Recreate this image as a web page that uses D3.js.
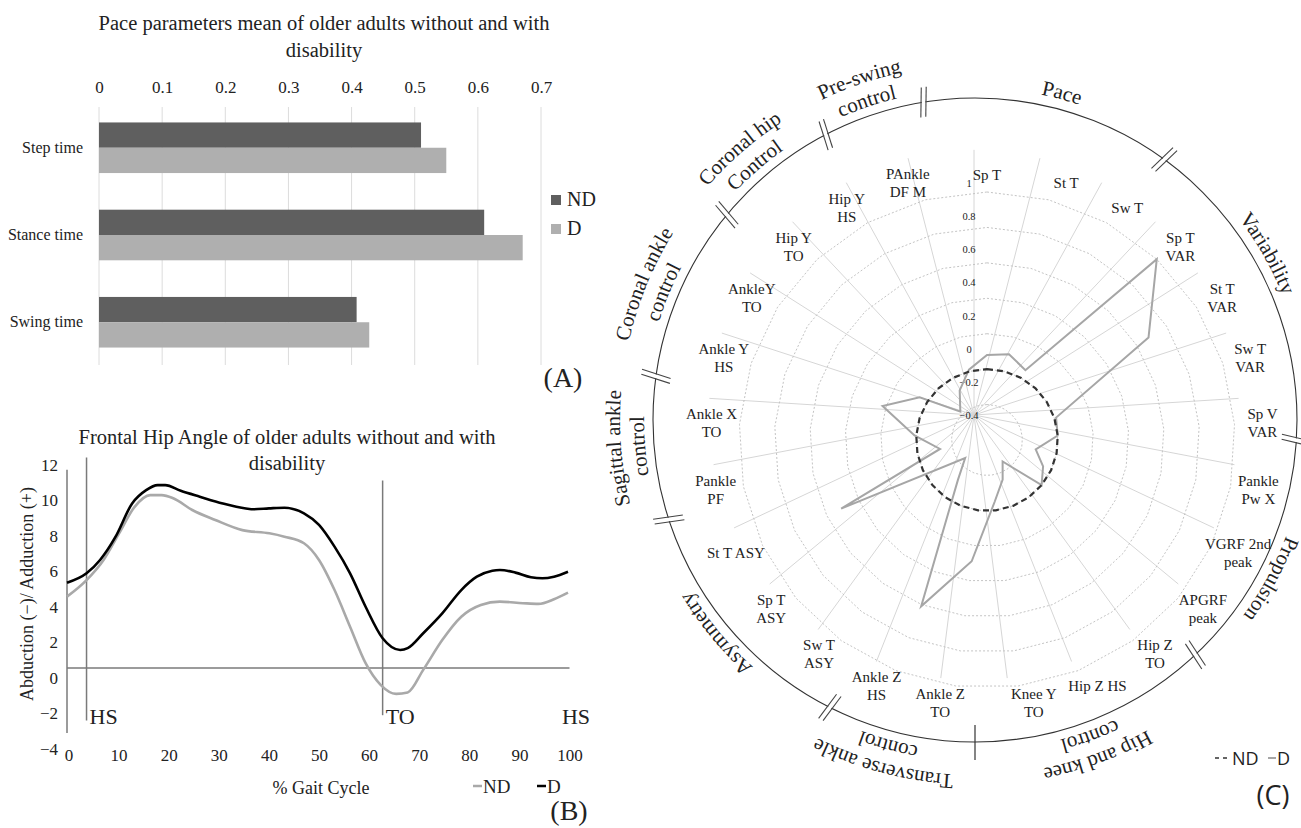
<!DOCTYPE html>
<html><head><meta charset="utf-8">
<script src="https://cdn.jsdelivr.net/npm/d3@7"></script>
<style>
body{margin:0;background:#fff;}
svg text{font-family:"Liberation Serif","Times New Roman",serif;fill:#222;}
</style></head><body>
<svg id="chart" width="1301" height="828"></svg>
<script>
// ---------------- Panel A data ----------------
const paceCategories = ["Step time", "Stance time", "Swing time"];
const paceSeries = ["ND", "D"];
const paceND = [0.510, 0.610, 0.408];
const paceD = [0.550, 0.671, 0.428];
const paceTicks = [0, 0.1, 0.2, 0.3, 0.4, 0.5, 0.6, 0.7];
const paceTitle = ["Pace parameters mean of older adults without and with", "disability"];

// ---------------- Panel B data ----------------
const gaitPctD = [0, 3.9, 6.6, 9.7, 13.0, 15.8, 18.1, 19.6, 22.7, 26.5, 31.1, 35.7, 37.3, 40.3, 43.4, 47.3, 50.3, 53.4, 56.5, 59.6, 63.0, 66.5, 68.0, 71.1, 74.9, 78.7, 81.8, 84.9, 86.4, 89.5, 92.6, 94.9, 97.2, 100];
const hipD = [5.35, 5.88, 6.63, 7.94, 9.81, 10.56, 10.84, 10.84, 10.52, 10.19, 9.81, 9.53, 9.48, 9.53, 9.57, 9.25, 8.6, 7.38, 5.88, 4.0, 2.23, 1.57, 1.67, 2.51, 3.63, 4.94, 5.69, 6.03, 6.07, 5.92, 5.66, 5.6, 5.69, 5.97];
const gaitPctND = [0, 3.9, 7.3, 10.4, 13.5, 16.6, 18.9, 21.2, 25.0, 29.6, 35.0, 40.4, 43.4, 47.3, 50.3, 53.4, 56.5, 59.6, 62.6, 65.7, 68.0, 71.1, 74.9, 78.7, 82.6, 86.4, 91.0, 94.1, 97.2, 100];
const hipND = [4.57, 5.5, 6.63, 8.13, 9.62, 10.28, 10.28, 10.1, 9.44, 8.88, 8.31, 8.13, 7.94, 7.57, 6.63, 4.94, 2.88, 0.83, -0.39, -0.9, -0.82, 0.45, 2.13, 3.44, 4.1, 4.29, 4.2, 4.16, 4.42, 4.79];
const hipTicksY = [-4, -2, 0, 2, 4, 6, 8, 10, 12];
const gaitTicksX = [0, 10, 20, 30, 40, 50, 60, 70, 80, 90, 100];
const gaitEventLabels = ["HS", "TO", "HS"];
const gaitEventPct = [3.9, 63, 100];
const gaitEventTop = [12.4, 11.1];
const gaitEventBottom = [-2.4, -2.1];
const hipRefLine = 0.55;
const hipAxisExtent = [-3.1, 11.7];
const hipTitle = ["Frontal Hip Angle of older adults without and with", "disability"];

// ---------------- Panel C data ----------------
const radarAxes = ["Sp T", "St T", "Sw T", "Sp T\nVAR", "St T\nVAR", "Sw T\nVAR", "Sp V\nVAR", "Pankle\nPw X", "VGRF 2nd\npeak", "APGRF\npeak", "Hip Z\nTO", "Hip Z HS", "Knee Y\nTO", "Ankle Z\nTO", "Ankle Z\nHS", "Sw T\nASY", "Sp T\nASY", "St T ASY", "Pankle\nPF", "Ankle X\nTO", "Ankle Y\nHS", "AnkleY\nTO", "Hip Y\nTO", "Hip Y\nHS", "PAnkle\nDF M"];
const radarND = [0, 0, 0, 0, 0, 0, 0, 0, 0, 0, 0, 0, 0, 0, 0, 0, 0, 0, 0, 0, 0, 0, 0, 0, 0];
const radarD = [0.08, 0.10, 0.05, 1.00, 0.68, 0.01, 0.00, -0.12, -0.05, 0.00, -0.25, -0.16, -0.05, 0.29, 0.61, -0.12, -0.24, 0.51, -0.13, 0.01, 0.22, 0.05, -0.18, -0.08, 0.01];
const radarTicks = [-0.4, -0.2, 0, 0.2, 0.4, 0.6, 0.8, 1];
const radarGroups = ["Pace", "Variability", "Propulsion", "Hip and knee\ncontrol", "Transverse ankle\ncontrol", "Asymmetry", "Sagittal ankle\ncontrol", "Coronal ankle\ncontrol", "Coronal hip\nControl", "Pre-swing\ncontrol"];
const radarGroupSizes = [3, 4, 3, 3, 2, 3, 2, 2, 2, 1];

const svg = d3.select("#chart");
const serif = '"Liberation Serif","Times New Roman",serif';
const sans = '"Open Sans","Liberation Sans",sans-serif';

// =============== Panel A =================
(function () {
  const g = svg.append("g");
  const x = d3.scaleLinear().domain([0, 0.7]).range([99, 541]);
  const y = d3.scaleBand().domain(paceCategories).range([105, 365]).paddingInner(0.42).paddingOuter(0.2);
  const ySub = d3.scaleBand().domain(paceSeries).range([0, y.bandwidth()]);
  const color = d3.scaleOrdinal().domain(paceSeries).range(["#5f5f5f", "#afafaf"]);

  g.selectAll("text.title").data(paceTitle).join("text")
    .attr("x", 324).attr("y", (d, i) => 30 + i * 27).attr("text-anchor", "middle")
    .style("font-size", "20.5px").text(d => d);

  g.selectAll("line.grid").data(paceTicks).join("line")
    .attr("x1", d => x(d)).attr("x2", d => x(d)).attr("y1", 107).attr("y2", 365)
    .attr("stroke", "#dcdcdc").attr("stroke-width", 1);

  const axis = d3.axisTop(x).tickValues(paceTicks).tickSize(0).tickPadding(0).tickFormat(d3.format("~g"));
  const ax = g.append("g").attr("transform", "translate(0,93)").call(axis);
  ax.select(".domain").remove();
  ax.selectAll("text").style("font-size", "17px").style("font-family", serif).attr("fill", "#222").attr("dy", 0);

  const rows = paceCategories.map((c, i) => ({ c, vals: [paceND[i], paceD[i]] }));
  const rg = g.selectAll("g.row").data(rows).join("g").attr("transform", d => `translate(0,${y(d.c)})`);
  rg.selectAll("rect").data(d => d.vals.map((v, j) => ({ s: paceSeries[j], v }))).join("rect")
    .attr("x", x(0)).attr("y", d => ySub(d.s)).attr("height", ySub.bandwidth())
    .attr("width", d => x(d.v) - x(0)).attr("fill", d => color(d.s));

  g.selectAll("text.cat").data(paceCategories).join("text")
    .attr("x", 83).attr("y", d => y(d) + y.bandwidth() / 2 + 5).attr("text-anchor", "end")
    .style("font-size", "16px").text(d => d);

  const lg = g.selectAll("g.leg").data(paceSeries).join("g")
    .attr("transform", (d, i) => `translate(551,${195 + i * 29})`);
  lg.append("rect").attr("width", 10).attr("height", 10).attr("fill", d => color(d));
  lg.append("text").attr("x", 16).attr("y", 11).style("font-size", "20px").text(d => d);

  g.append("text").attr("x", 563).attr("y", 387).attr("text-anchor", "middle")
    .style("font-size", "28px").text("(A)");
})();

// =============== Panel B =================
(function () {
  const g = svg.append("g");
  const x = d3.scaleLinear().domain([0, 100]).range([67, 568]);
  const y = d3.scaleLinear().domain([-4, 12]).range([749, 464.5]);
  const grey = "#7a7a7a";

  g.selectAll("text.title").data(hipTitle).join("text")
    .attr("x", 287).attr("y", (d, i) => 444 + i * 26).attr("text-anchor", "middle")
    .style("font-size", "20.5px").text(d => d);

  g.append("line").attr("x1", x(0)).attr("x2", x(0)).attr("y1", y(hipAxisExtent[0])).attr("y2", y(hipAxisExtent[1]))
    .attr("stroke", grey).attr("stroke-width", 1.5);
  g.append("line").attr("x1", x(0)).attr("x2", x(100.3)).attr("y1", y(hipRefLine)).attr("y2", y(hipRefLine))
    .attr("stroke", grey).attr("stroke-width", 1.5);
  g.selectAll("line.ev").data(gaitEventTop).join("line")
    .attr("x1", (d, i) => x(gaitEventPct[i])).attr("x2", (d, i) => x(gaitEventPct[i]))
    .attr("y1", d => y(d)).attr("y2", (d, i) => y(gaitEventBottom[i]))
    .attr("stroke", grey).attr("stroke-width", 1.5);
  g.selectAll("text.ev").data(gaitEventLabels).join("text")
    .attr("x", (d, i) => i < 2 ? x(gaitEventPct[i]) + 3 : x(gaitEventPct[i]) + 22)
    .attr("y", 724).attr("text-anchor", (d, i) => i < 2 ? "start" : "end")
    .style("font-size", "22px").text(d => d);

  g.selectAll("text.yt").data(hipTicksY).join("text")
    .attr("x", 58).attr("y", d => y(d) + 6).attr("text-anchor", "end")
    .style("font-size", "17px").text(d => d < 0 ? "\u2212" + Math.abs(d) : d);
  g.selectAll("text.xt").data(gaitTicksX).join("text")
    .attr("x", d => x(d) + 2).attr("y", 761).attr("text-anchor", "middle")
    .style("font-size", "17px").text(d => d);

  const lineGen = (xs) => d3.line().x((d, i) => x(xs[i])).y(d => y(d)).curve(d3.curveMonotoneX);
  g.append("path").attr("d", lineGen(gaitPctND)(hipND)).attr("fill", "none")
    .attr("stroke", "#a9a9a9").attr("stroke-width", 2.6);
  g.append("path").attr("d", lineGen(gaitPctD)(hipD)).attr("fill", "none")
    .attr("stroke", "#000").attr("stroke-width", 2.6);

  g.append("text").attr("transform", "translate(33,594) rotate(-90)").attr("text-anchor", "middle")
    .style("font-size", "18px").text("Abduction (\u2212)/ Adduction (+)");
  g.append("text").attr("x", 321).attr("y", 794).attr("text-anchor", "middle")
    .style("font-size", "18px").text("% Gait Cycle");

  const leg = [{ s: "ND", c: "#a9a9a9", x: 473 }, { s: "D", c: "#000", x: 537 }];
  const lg = g.selectAll("g.leg").data(leg).join("g").attr("transform", d => `translate(${d.x},786)`);
  lg.append("line").attr("x1", 0).attr("x2", 9).attr("stroke", d => d.c).attr("stroke-width", 2.5);
  lg.append("text").attr("x", 10).attr("y", 7).style("font-size", "19px").text(d => d.s);

  g.append("text").attr("x", 569).attr("y", 820).attr("text-anchor", "middle")
    .style("font-size", "28px").text("(B)");
})();

// =============== Panel C =================
(function () {
  const g = svg.append("g");
  const n = radarAxes.length;
  const ang = d3.scaleLinear().domain([0, n]).range([0, 2 * Math.PI]);
  const deg = Math.PI / 180;
  const cx = 987, cy = 440;          // rings / series centre
  const sx = 974, sy = 415;          // spoke centre (offset in the source figure)
  const fx = 975, fy = 420, fr = 322; // outer frame circle
  const r = d3.scaleLinear().domain([-0.4, 1]).range([0, 248]);
  const rTick = d3.scaleLinear().domain([-0.4, 1]).range([0, 232]);
  const idx = d3.range(n);

  g.selectAll("line.spoke").data(idx).join("line")
    .attr("x1", sx).attr("y1", sy)
    .attr("x2", i => sx + rTick(1.2) * Math.sin(ang(i)))
    .attr("y2", i => sy - rTick(1.2) * Math.cos(ang(i)))
    .attr("stroke", "#d6d6d6").attr("stroke-width", 1);

  const ring = d3.lineRadial().angle((d, i) => ang(i)).radius(d => r(d)).curve(d3.curveLinearClosed);
  g.selectAll("path.ring").data(radarTicks.filter(t => t > -0.4)).join("path")
    .attr("transform", `translate(${cx},${cy})`)
    .attr("d", t => ring(idx.map(() => t)))
    .attr("fill", "none").attr("stroke", "#c4c4c4").attr("stroke-width", 1).attr("stroke-dasharray", "2,2");

  g.selectAll("text.rt").data(radarTicks).join("text")
    .attr("x", sx - 5).attr("y", t => sy - rTick(t) + 4).attr("text-anchor", "middle")
    .style("font-size", "10.5px").attr("fill", "#333").text(t => d3.format("~g")(t));

  const poly = d3.lineRadial().angle((d, i) => ang(i)).radius(d => r(d)).curve(d3.curveLinearClosed);
  g.append("path").attr("transform", `translate(${cx},${cy})`).attr("d", poly(radarD))
    .attr("fill", "none").attr("stroke", "#a6a6a6").attr("stroke-width", 2).attr("stroke-linejoin", "miter");
  g.append("path").attr("transform", `translate(${cx},${cy})`).attr("d", poly(radarND))
    .attr("fill", "none").attr("stroke", "#333").attr("stroke-width", 2.2).attr("stroke-dasharray", "6,4");

  const lh = 18;
  const lab = g.selectAll("text.al").data(radarAxes).join("text")
    .attr("text-anchor", "middle").style("font-size", "15px")
    .attr("transform", (d, i) => {
      const a = ang(i), s = Math.sin(a);
      const px = cx + 262 * s + (Math.abs(s) > 0.01 ? 14 * Math.sign(s) : 0);
      const py = cy - 265 * Math.cos(a);
      return `translate(${px},${py})`;
    });
  lab.each(function (d) {
    const lines = d.split("\n");
    d3.select(this).selectAll("tspan").data(lines).join("tspan")
      .attr("x", 0).attr("y", (l, k) => (k - (lines.length - 1) / 2) * lh + 5).text(l => l);
  });

  g.append("circle").attr("cx", fx).attr("cy", fy).attr("r", fr)
    .attr("fill", "none").attr("stroke", "#333").attr("stroke-width", 1.1);

  // group boundaries (hand-placed in the source figure: small angular nudges, degrees)
  const starts = [];
  radarGroupSizes.reduce((acc, s) => { starts.push(acc); return acc + s; }, 0);
  const sepNudge = [-2, 0, 0, 0, 0, -2, 0, -3, 0, -6];
  starts.forEach((st, k) => {
    const a = ang(st - 0.5) + sepNudge[k] * deg;
    const ux = Math.sin(a), uy = -Math.cos(a);
    const tx = Math.cos(a), ty = Math.sin(a);
    if (k === 4) {
      g.append("line").attr("x1", fx + 305 * ux).attr("y1", fy + 305 * uy)
        .attr("x2", fx + 340 * ux).attr("y2", fy + 340 * uy)
        .attr("stroke", "#333").attr("stroke-width", 1.2);
      return;
    }
    const tilt = 10 * deg;
    const dx = ux * Math.cos(tilt) - uy * Math.sin(tilt), dy = ux * Math.sin(tilt) + uy * Math.cos(tilt);
    g.append("line").attr("x1", fx + fr * ux - 1.8 * tx).attr("y1", fy + fr * uy - 1.8 * ty)
      .attr("x2", fx + fr * ux + 1.8 * tx).attr("y2", fy + fr * uy + 1.8 * ty)
      .attr("stroke", "#fff").attr("stroke-width", 3);
    [-2.5, 2.5].forEach(off => {
      const bx = fx + fr * ux + off * tx, by = fy + fr * uy + off * ty;
      g.append("line").attr("x1", bx - 15 * dx).attr("y1", by - 15 * dy)
        .attr("x2", bx + 15 * dx).attr("y2", by + 15 * dy)
        .attr("stroke", "#444").attr("stroke-width", 1.1);
    });
  });

  // group labels along the frame circle
  const labNudge = [0.5, -4.5, 3, 1.5, 0.5, 0, -1, -3, -5, -4.5];
  const defs = svg.append("defs");
  const circ = rr => `M${fx},${fy - rr} A${rr},${rr} 0 1,1 ${fx},${fy + rr} A${rr},${rr} 0 1,1 ${fx},${fy - rr}`;
  const R1 = 355, R2 = 331, R0 = 332;
  [R1, R2, R0].forEach(rr => defs.append("path").attr("id", "circ" + rr).attr("d", circ(rr)));
  radarGroups.forEach((name, k) => {
    const mid = ang(starts[k] + (radarGroupSizes[k] - 1) / 2) + labNudge[k] * deg;
    const lines = name.split("\n");
    lines.forEach((l, j) => {
      const rr = lines.length === 1 ? R0 : (j === 0 ? R1 : R2);
      g.append("text").style("font-size", "21px").attr("text-anchor", "middle")
        .append("textPath").attr("href", "#circ" + rr).attr("startOffset", rr * mid).text(l);
    });
  });

  const lg = g.append("g").attr("transform", "translate(1215,758)");
  lg.append("line").attr("x1", 0).attr("x2", 15).attr("stroke", "#333").attr("stroke-width", 1.5).attr("stroke-dasharray", "4,4");
  lg.append("text").attr("x", 17).attr("y", 7).style("font-family", sans).style("font-size", "18px").text("ND");
  lg.append("line").attr("x1", 53).attr("x2", 61).attr("stroke", "#a6a6a6").attr("stroke-width", 2);
  lg.append("text").attr("x", 62).attr("y", 7).style("font-family", sans).style("font-size", "18px").text("D");
  g.append("text").attr("x", 1273).attr("y", 805).attr("text-anchor", "middle")
    .style("font-family", sans).style("font-size", "27px").text("(C)");
})();
</script>
</body></html>
